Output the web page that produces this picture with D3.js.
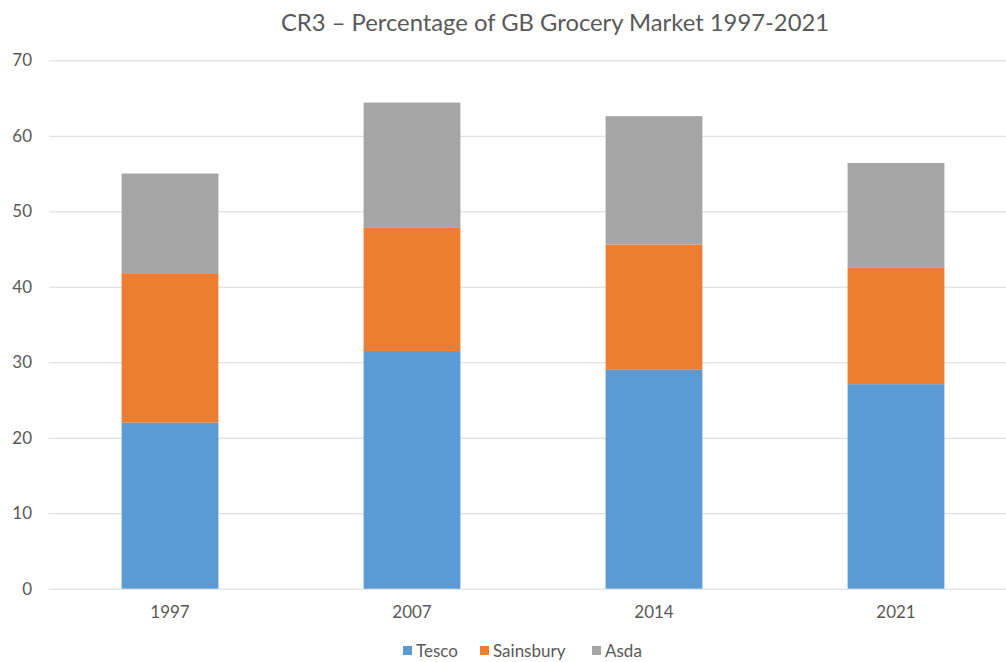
<!DOCTYPE html>
<html>
<head>
<meta charset="utf-8">
<script src="https://cdn.jsdelivr.net/npm/d3@7"></script>
<style>
  html, body { margin: 0; padding: 0; background: #fff; }
  svg { display: block; font-family: Lato, "Open Sans", sans-serif; }
</style>
</head>
<body>
<svg id="chart" width="1006" height="662"></svg>
<script>
// CR3 stacked bar – share of GB grocery market
const years     = ['1997', '2007', '2014', '2021'];
const tesco     = [22.0, 31.5, 29.0, 27.1];
const sainsbury = [19.8, 16.3, 16.6, 15.4];
const asda      = [13.2, 16.6, 17.0, 13.9];
const seriesNames = ['Tesco', 'Sainsbury', 'Asda'];
const yTicks    = [0, 10, 20, 30, 40, 50, 60, 70];

const COLOURS = { Tesco: '#5b9bd5', Sainsbury: '#ed7d31', Asda: '#a5a5a5' };
const TEXT = '#595959';

const svg = d3.select('#chart');
const W = 1006, H = 662;
const plot = { left: 49, right: 1017, top: 60.3, bottom: 588.7 };

// rows for the stack
const rows = years.map((y, i) => ({ year: y, Tesco: tesco[i], Sainsbury: sainsbury[i], Asda: asda[i] }));
const stacked = d3.stack().keys(seriesNames)(rows);

const x = d3.scaleBand()
  .domain(years)
  .range([plot.left, plot.right])
  .paddingInner(0.6)
  .paddingOuter(0.3);

const y = d3.scaleLinear()
  .domain([0, 70])
  .range([plot.bottom, plot.top]);

// ---------- gridlines + y labels ----------
const yAxis = svg.append('g')
  .attr('transform', `translate(${plot.left},0)`)
  .call(d3.axisLeft(y).tickValues(yTicks).tickSize(-(W - plot.left)).tickPadding(17));
yAxis.select('.domain').remove();
yAxis.selectAll('.tick line').attr('stroke', '#d9d9d9').attr('stroke-width', 1);
yAxis.selectAll('.tick text')
  .attr('fill', TEXT)
  .attr('font-size', 17)
  .attr('font-family', 'Lato, sans-serif');

// ---------- bars ----------
svg.append('g')
  .selectAll('g')
  .data(stacked)
  .join('g')
    .attr('fill', d => COLOURS[d.key])
  .selectAll('rect')
  .data(d => d)
  .join('rect')
    .attr('x', d => x(d.data.year))
    .attr('width', x.bandwidth())
    .attr('y', d => y(d[1]))
    .attr('height', d => y(d[0]) - y(d[1]));

// ---------- x labels ----------
const xAxis = svg.append('g')
  .attr('transform', `translate(0,${plot.bottom})`)
  .call(d3.axisBottom(x).tickSize(0).tickPadding(17));
xAxis.select('.domain').remove();
xAxis.selectAll('.tick text')
  .attr('fill', TEXT)
  .attr('font-size', 17)
  .attr('font-family', 'Lato, sans-serif');

// ---------- title ----------
svg.append('text')
  .attr('x', 555)
  .attr('y', 31)
  .attr('text-anchor', 'middle')
  .attr('fill', TEXT)
  .attr('font-size', 23.8)
  .text('CR3 \u2013 Percentage of GB Grocery Market 1997-2021');

// ---------- legend ----------
const legendX = [403, 480, 592];
const legend = svg.append('g').attr('transform', 'translate(0,651)');
const item = legend.selectAll('g')
  .data(seriesNames)
  .join('g')
    .attr('transform', (d, i) => `translate(${legendX[i]},0)`);
item.append('rect')
  .attr('x', 0).attr('y', -5)
  .attr('width', 9).attr('height', 9)
  .attr('fill', d => COLOURS[d]);
item.append('text')
  .attr('x', 13).attr('y', 0)
  .attr('dy', '0.35em')
  .attr('fill', TEXT)
  .attr('font-size', 17)
  .text(d => d);
</script>
</body>
</html>
